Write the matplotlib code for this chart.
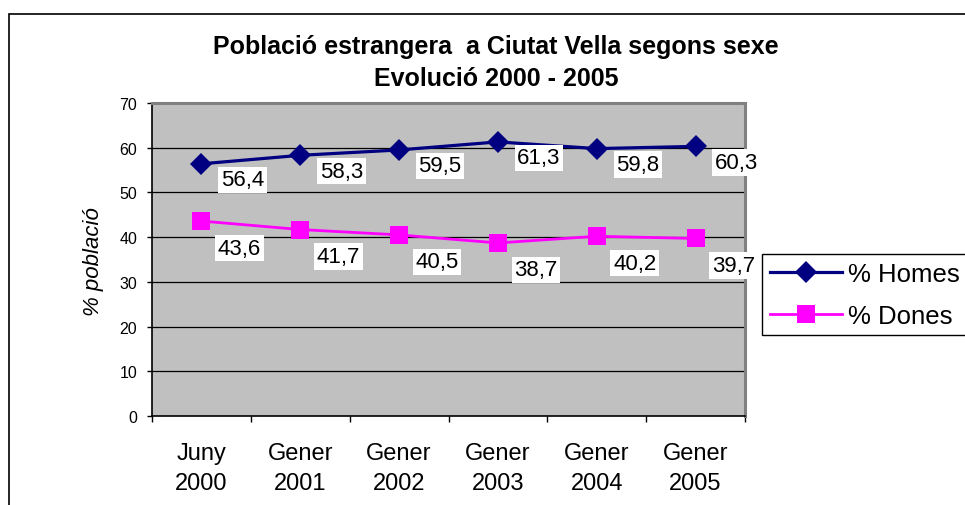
import matplotlib
matplotlib.use("Agg")
import matplotlib.pyplot as plt
import numpy as np
from matplotlib.patches import Rectangle

categories = ["Juny\n2000", "Gener\n2001", "Gener\n2002", "Gener\n2003", "Gener\n2004", "Gener\n2005"]
homes = [56.4, 58.3, 59.5, 61.3, 59.8, 60.3]
dones = [43.6, 41.7, 40.5, 38.7, 40.2, 39.7]
series_names = ["% Homes", "% Dones"]
yticks = [0, 10, 20, 30, 40, 50, 60, 70]

plt.rcParams['font.family'] = ['Liberation Sans', 'DejaVu Sans']

W, H = 965, 506
fig = plt.figure(figsize=(W / 100, H / 100), dpi=100)

# outer chart border (clipped at right/bottom like the reference)
fig.patches.append(Rectangle((9 / W, -0.1), 1.2, 1.1 - 15 / H, transform=fig.transFigure,
                             fill=False, edgecolor='black', linewidth=1.2, zorder=0))

L, T, R, B = 152, 104, 745, 417
ax = fig.add_axes([L / W, 1 - B / H, (R - L) / W, (B - T) / H])
ax.set_facecolor('#C0C0C0')

x = np.arange(len(categories)) + 0.5
ax.plot(x, homes, color='#000080', lw=2.3, marker='D', markersize=11, mew=0, zorder=3,
        label=series_names[0])
ax.plot(x, dones, color='#FF00FF', lw=2.0, marker='s', markersize=13.5, mew=0, zorder=3,
        label=series_names[1])

ax.set_xlim(0, len(categories))
ax.set_ylim(0, 70)
ax.set_yticks(yticks)
ax.set_yticklabels([str(v) for v in yticks], fontsize=11.5)
ax.set_xticks(np.arange(len(categories) + 1))
ax.set_xticklabels([])
ax.set_xticks(x, minor=True)
ax.set_xticklabels(categories, minor=True, fontsize=17, linespacing=1.45)
ax.tick_params(axis='x', which='minor', length=0, pad=19)
ax.tick_params(axis='x', which='major', length=4.5, direction='out', width=1)
ax.tick_params(axis='y', length=3.6, direction='out', width=1, pad=7)

for yv in yticks[1:-1]:
    ax.axhline(yv, color='black', lw=0.9, zorder=1)

for s in ['top', 'right']:
    ax.spines[s].set_color('#808080')
    ax.spines[s].set_linewidth(2.2)
for s in ['left', 'bottom']:
    ax.spines[s].set_color('black')
    ax.spines[s].set_linewidth(1.2)

def fmt(v):
    return f"{v:.1f}".replace('.', ',')

for xi, v in zip(x, homes):
    ax.annotate(fmt(v), (xi, v), xytext=(41, -16), textcoords='offset pixels',
                ha='center', va='center', fontsize=16, zorder=5,
                bbox=dict(boxstyle='square,pad=0.12', fc='white', ec='none'))
for xi, v in zip(x, dones):
    ax.annotate(fmt(v), (xi, v), xytext=(38, -27), textcoords='offset pixels',
                ha='center', va='center', fontsize=16, zorder=5,
                bbox=dict(boxstyle='square,pad=0.12', fc='white', ec='none'))

fig.text(496 / W, 1 - 47 / H, "Població estrangera  a Ciutat Vella segons sexe",
         ha='center', va='center', fontsize=18, fontweight='bold')
fig.text(496 / W, 1 - 79 / H, "Evolució 2000 - 2005",
         ha='center', va='center', fontsize=18, fontweight='bold')

fig.text(93 / W, 1 - 262 / H, "% població", rotation=90, ha='center', va='center',
         fontsize=16, style='italic')

leg = fig.legend(loc='upper left', bbox_to_anchor=(762 / W, 1 - 255 / H), fontsize=18.5,
                 frameon=True, fancybox=False, shadow=False, handlelength=2.8,
                 handletextpad=0.25, borderpad=0.3, labelspacing=0.7, borderaxespad=0)
leg.get_frame().set_edgecolor('black')
leg.get_frame().set_linewidth(1.0)
leg.get_frame().set_alpha(1)

fig.savefig("out.png", dpi=100)
